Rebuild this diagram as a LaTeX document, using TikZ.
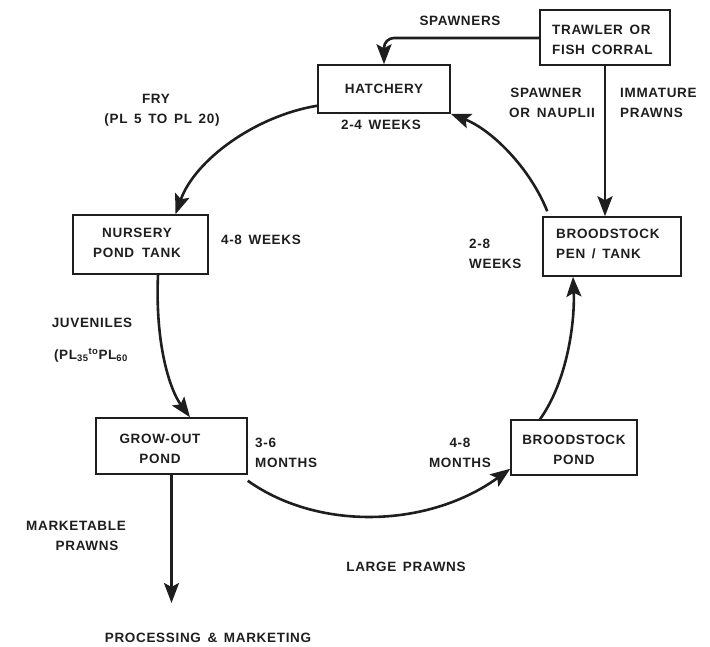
\documentclass[tikz,border=0pt]{standalone}
\usepackage{fontspec}
\setmainfont[LetterSpace=5,WordSpace=1.5]{Liberation Sans}
\usetikzlibrary{arrows.meta}
\definecolor{ink}{HTML}{1E1E1E}
\begin{document}
\begin{tikzpicture}[x=1pt,y=-1pt,
  every node/.style={text=ink,font=\fontsize{13.5}{20}\selectfont\bfseries,inner sep=0pt},
  stage/.style={draw=ink,line width=1.5pt,minimum width=#1,minimum height=50pt},
  flow/.style={draw=ink,line width=2.6pt,-{Stealth[length=20pt,width=15pt,inset=4pt]}},
  lbl/.style={align=center}]
\useasboundingbox (0,0) rectangle (710,647);

% stages of the culture cycle
\node[stage=130pt,minimum height=55pt] (trawl) at (605,37.5) {};
\node[anchor=west,align=left] at (552,40) {TRAWLER OR\\FISH CORRAL};

\node[stage=132pt,minimum height=48pt] (hatch) at (384,89) {HATCHERY};
\node[stage=135pt,minimum height=59pt] (nurs) at (140.5,244.5) {};
\node[lbl] at (137,242.5) {NURSERY\\POND\hspace{8pt}TANK};
\node[stage=138pt,minimum height=59pt] (pen) at (612,246.5) {};
\node[anchor=west,align=left] at (556,243.5) {BROODSTOCK\\PEN / TANK};
\node[stage=151pt,minimum height=56pt] (grow) at (171.5,446) {};
\node[lbl] at (160,448.5) {GROW-OUT\\POND};
\node[stage=126pt,minimum height=55pt] (pond) at (574,447.5) {};
\node[lbl] at (574,449.5) {BROODSTOCK\\POND};

% durations and stock labels
\node at (460,21) {SPAWNERS};
\node at (381,125) {2-4 WEEKS};
\node[lbl] at (546,102.5) {SPAWNER\\\hspace{12pt}OR NAUPLII};
\node[anchor=west,align=left] at (620,103) {IMMATURE\\PRAWNS};
\node[lbl] at (156,110) {FRY\\\hspace{12pt}(PL 5 TO PL 20)};
\node at (261,240) {4-8 WEEKS};
\node[anchor=west,align=left] at (469,254) {2-8\\WEEKS};
\node at (92,323) {JUVENILES};
\node at (91,355) {(PL\textsubscript{35}\textsuperscript{to}PL\textsubscript{60}};
\node[anchor=west,align=left] at (255,452.5) {3-6\\MONTHS};
\node[lbl] at (460,452.5) {4-8\\MONTHS};
\node at (406,567) {LARGE PRAWNS};
\node[lbl] at (76,536) {MARKETABLE\\\hspace{22pt}PRAWNS};
\node (proc) at (208,638) {PROCESSING \& MARKETING};
\coordinate (sale) at (grow.south |- 0,603);

% connectors
\draw[flow,rounded corners=10pt] (trawl.west |- 0,38) -| (hatch.north);
\draw[flow] (trawl.south) -- (trawl.south |- pen.north);
\draw[flow] ([yshift=8pt]hatch.south west)
  .. controls (255,116) and (195,160) .. ([xshift=35pt]nurs.north);
\draw[flow] ([xshift=17.5pt]nurs.south)
  .. controls (155,345) and (170,390) .. ([xshift=18.5pt]grow.north);
\draw[flow] ([yshift=-6pt]grow.south east)
  .. controls (320,532) and (430,527) .. ([yshift=7pt]pond.south west);
\draw[flow] ([xshift=-34pt]pond.north)
  .. controls (568,380) and (575,320) .. ([xshift=-39pt]pen.north |- pen.south);
\draw[flow] ([xshift=5pt,yshift=5pt]pen.north west)
  .. controls (530,168) and (492,130) .. (hatch.south east);
\draw[flow] (grow.south) -- (sale);
\end{tikzpicture}
\end{document}
